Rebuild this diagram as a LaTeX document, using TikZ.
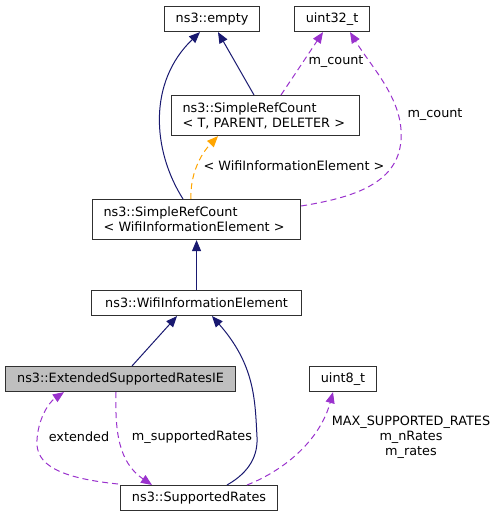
\documentclass[tikz,border=0pt]{standalone}
\usepackage{fontspec}
\setmainfont{DejaVu Sans}
\usetikzlibrary{arrows.meta}
\definecolor{navyc}{HTML}{191970}
\definecolor{purpc}{HTML}{9A32CD}
\definecolor{orngc}{HTML}{FFA500}
\definecolor{bordc}{HTML}{303030}
\definecolor{grayc}{HTML}{BFBFBF}
\newcommand{\dfs}{\fontsize{12.8}{15}\selectfont}
\tikzset{
  box/.style={draw=bordc, line width=1.1pt, anchor=north west, inner sep=0pt, font=\dfs, minimum height=25pt},
  boxtwo/.style={box, align=left, text width=#1, inner xsep=11pt, minimum height=40pt},
  inh/.style={draw=navyc, line width=1pt, -{Triangle[length=11pt,width=9pt,fill=navyc]}},
  usage/.style={draw=purpc, line width=1pt, dash pattern=on 6pt off 4pt, -{Triangle[length=11pt,width=9pt,fill=purpc]}},
  tmpl/.style={draw=orngc, line width=1pt, dash pattern=on 6pt off 4pt, -{Triangle[length=11pt,width=9pt,fill=orngc]}},
  lbl/.style={font=\dfs, inner sep=0pt, align=center}
}
\begin{document}
\begin{tikzpicture}[x=1pt,y=-1pt]
\useasboundingbox (0,0) rectangle (500,516);
\node[box, minimum width=95pt] (empty) at (164,6) {ns3::empty};
\node[box, minimum width=75pt] (u32) at (294,6) {uint32\_t};
\node[boxtwo=166pt] (srct) at (171,95) {ns3::SimpleRefCount\\< T, PARENT, DELETER >};
\node[boxtwo=186pt] (srcw) at (92,199) {ns3::SimpleRefCount\\< WifiInformationElement >};
\node[box, minimum width=210pt] (wie) at (91,290) {ns3::WifiInformationElement};
\node[box, minimum width=230pt, fill=grayc] (esr) at (5,366) {ns3::ExtendedSupportedRatesIE};
\node[box, minimum width=67pt] (u8) at (309,366) {uint8\_t};
\node[box, minimum width=157pt] (sr) at (120,485) {ns3::SupportedRates};

% inheritance
\draw[inh] ([xshift=91pt]srcw.north west) .. controls (152,150) and (148,82) .. ([xshift=36pt]empty.south west);
\draw[inh] ([xshift=83pt]srct.north west) -- ([xshift=54pt]empty.south west);
\draw[inh] (wie.north) -- (srcw.south);
\draw[inh] ([xshift=127pt]esr.north west) -- ([xshift=86pt]wie.south west);
\draw[inh] ([xshift=107pt]sr.north west) .. controls (250,472) and (258,455) .. (257,437) .. controls (255,400) and (255,365) .. ([xshift=121pt]wie.south west);

% template
\draw[tmpl] ([xshift=99pt]srcw.north west) .. controls (190,175) and (200,155) .. ([xshift=47pt]srct.south west);
\node[lbl] (ltmpl) at (294,166) {< WifiInformationElement >};

% usage
\draw[usage] ([xshift=110pt]srct.north west) -- ([xshift=29pt]u32.south west);
\node[lbl] (lc1) at (336,62) {m\_count};
\draw[usage] ([yshift=-7pt]srcw.north east) .. controls (350,198) and (398,185) .. (401,140) .. controls (404,100) and (372,68) .. ([xshift=56pt]u32.south west);
\node[lbl] (lc2) at (435,115) {m\_count};
\draw[usage] ([xshift=-2pt,yshift=1pt]sr.north west) .. controls (60,478) and (35,465) .. (37,440) .. controls (38,420) and (48,403) .. ([xshift=59pt]esr.south west);
\node[lbl] (lext) at (79,437) {extended};
\draw[usage] ([xshift=111pt]esr.south west) .. controls (115,430) and (118,462) .. ([xshift=32pt]sr.north west);
\node[lbl] (lsr) at (192,437) {m\_supportedRates};
\draw[usage] ([xshift=127pt]sr.north west) .. controls (285,470) and (320,440) .. ([xshift=24pt]u8.south west);
\node[lbl] (lu8) at (411,437) {MAX\_SUPPORTED\_RATES\\m\_nRates\\m\_rates};
\end{tikzpicture}
\end{document}
